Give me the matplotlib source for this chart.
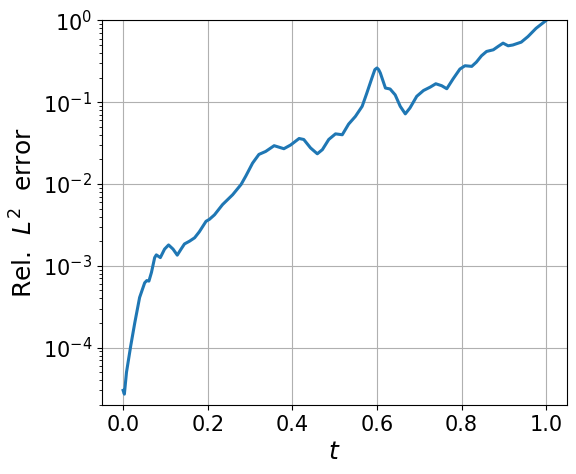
import numpy as np
import matplotlib.pyplot as plt

t = np.array([0.000, 0.003, 0.008, 0.018, 0.0275, 0.039, 0.051, 0.056, 0.061, 0.067,
              0.0746, 0.0785, 0.088, 0.098, 0.1075, 0.118, 0.128, 0.137, 0.145, 0.157,
              0.169, 0.180, 0.196, 0.204, 0.216, 0.235, 0.259, 0.279, 0.290, 0.306,
              0.321, 0.337, 0.357, 0.380, 0.396, 0.416, 0.427, 0.443, 0.459, 0.471,
              0.486, 0.502, 0.518, 0.533, 0.549, 0.565, 0.576, 0.588, 0.595, 0.600,
              0.604, 0.608, 0.620, 0.631, 0.643, 0.655, 0.667, 0.678, 0.694, 0.710,
              0.726, 0.739, 0.753, 0.765, 0.780, 0.796, 0.808, 0.824, 0.835, 0.847,
              0.859, 0.875, 0.886, 0.898, 0.910, 0.921, 0.941, 0.957, 0.976, 1.000])
err = np.array([3.0e-5, 2.7e-5, 5.0e-5, 1.05e-4, 2.0e-4, 4.1e-4, 6.2e-4, 6.6e-4, 6.5e-4, 8.3e-4,
                1.26e-3, 1.36e-3, 1.26e-3, 1.6e-3, 1.8e-3, 1.6e-3, 1.35e-3, 1.6e-3, 1.85e-3, 2.0e-3,
                2.2e-3, 2.6e-3, 3.5e-3, 3.7e-3, 4.2e-3, 5.6e-3, 7.4e-3, 9.9e-3, 1.25e-2, 1.8e-2,
                2.3e-2, 2.5e-2, 2.94e-2, 2.7e-2, 3.0e-2, 3.6e-2, 3.5e-2, 2.76e-2, 2.34e-2, 2.63e-2,
                3.5e-2, 4.1e-2, 4.0e-2, 5.4e-2, 6.7e-2, 8.9e-2, 0.129, 0.197, 0.25, 0.262,
                0.25, 0.227, 0.149, 0.145, 0.123, 0.089, 0.072, 0.085, 0.118, 0.139,
                0.153, 0.168, 0.159, 0.146, 0.193, 0.254, 0.279, 0.274, 0.309, 0.369,
                0.417, 0.437, 0.479, 0.527, 0.489, 0.500, 0.542, 0.635, 0.80, 1.0])

fig = plt.figure(figsize=(5.76, 4.74), dpi=100)
fig.subplots_adjust(left=0.177, right=0.985, bottom=0.146, top=0.957)
ax = fig.add_subplot(111)
ax.plot(t, err, color='#1f77b4', lw=2.2)
ax.set_yscale('log')
ax.set_ylim(2e-5, 1)
ax.set_xlim(-0.05, 1.05)
ax.set_xticks([0.0, 0.2, 0.4, 0.6, 0.8, 1.0])
ax.tick_params(labelsize=15)
ax.set_xlabel('$t$', fontsize=18)
ax.set_ylabel(r'Rel. $\ L^2\ $ error', fontsize=18)
ax.grid(True)
fig.savefig('out.png', dpi=100)
